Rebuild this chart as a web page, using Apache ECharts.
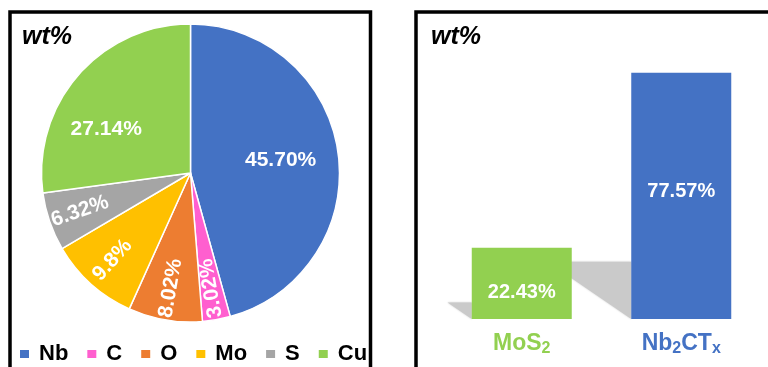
<!DOCTYPE html>
<html>
<head>
<meta charset="utf-8">
<script src="https://cdn.jsdelivr.net/npm/echarts@6/dist/echarts.min.js"></script>
<style>
  html, body { margin: 0; padding: 0; background: #ffffff; }
  #chart { width: 768px; height: 367px; }
</style>
</head>
<body>
<div id="chart"></div>
<script>
// Element composition (wt%)
const elements = ['Nb', 'C', 'O', 'Mo', 'S', 'Cu'];
const elementWt = [45.70, 3.02, 8.02, 9.8, 6.32, 27.14];
const elementDecimals = [2, 2, 2, 1, 2, 2];

// Phase composition (wt%)
const materials = ['MoS2', 'Nb2CTx'];
const materialWt = [22.43, 77.57];

const elementColors = ['#4472C4', '#FF5FCF', '#ED7D31', '#FFC000', '#A5A5A5', '#92D050'];
const materialColors = ['#92D050', '#4472C4'];

const FONT = 'Liberation Sans, Arial, sans-serif';
const PIE_CENTER = [190.5, 173];
const PIE_R = 149;

// Large slices get horizontal labels, small slices get radial labels
const bigSlice = elementWt.map(v => v > 20);
const total = elementWt.reduce((a, b) => a + b, 0);
let cum = 0;
const radialRotate = elementWt.map(v => {
  const mid = (cum + v / 2) / total * 360;
  cum += v;
  return 270 - mid;
});

// Nudges for the two horizontal labels
const bigLabelOffset = { Nb: [-5, 0], Cu: [-12, 19] };

function pctText(i) {
  return elementWt[i].toFixed(elementDecimals[i]) + '%';
}

const labelStyle = {
  color: '#ffffff',
  fontSize: 21,
  fontWeight: 'bold',
  fontFamily: FONT
};

function labelRing(inner, pick, extra) {
  return {
    type: 'pie',
    silent: true,
    center: PIE_CENTER,
    radius: [inner, PIE_R],
    startAngle: 90,
    clockwise: true,
    avoidLabelOverlap: false,
    minShowLabelAngle: 0,
    emphasis: { disabled: true },
    tooltip: { show: false },
    itemStyle: { color: 'rgba(0,0,0,0)' },
    labelLine: { show: false },
    label: Object.assign({ show: true, position: 'inside', formatter: p => pctText(p.dataIndex) }, labelStyle),
    data: elements.map((n, i) => ({
      name: n,
      value: elementWt[i],
      label: Object.assign({ show: pick(i) }, extra(i))
    }))
  };
}

// Shadow cast by each bar onto the floor behind it
function barShadow(params, api) {
  const i = api.value(0);
  const v = api.value(1);
  const base = api.coord([i, 0]);
  const top = api.coord([i, v]);
  const h = base[1] - top[1];
  const x0 = base[0] - 50;
  return {
    type: 'polygon',
    shape: {
      points: [
        [x0, base[1]],
        [x0 - 0.34 * h, base[1] - 0.232 * h],
        [x0, base[1] - 0.232 * h]
      ]
    },
    style: { fill: '#cacaca', shadowBlur: 2, shadowColor: '#cacaca' }
  };
}

function subscriptName(name, idx) {
  const body = name.replace(/(\d+|x$)/g, '}{s' + idx + '|$1}{m' + idx + '|');
  return '{m' + idx + '|' + body + '}';
}

const rich = {};
materialColors.forEach((c, i) => {
  rich['m' + i] = { color: c, fontSize: 23, fontWeight: 'bold', fontFamily: FONT, lineHeight: 26 };
  rich['s' + i] = { color: c, fontSize: 16, fontWeight: 'bold', fontFamily: FONT, lineHeight: 12, verticalAlign: 'bottom' };
});

const chart = echarts.init(document.getElementById('chart'), null, { renderer: 'canvas' });

chart.setOption({
  backgroundColor: '#ffffff',
  animation: false,
  title: [
    { text: 'wt%', left: 22, top: 25, padding: 0,
      textStyle: { fontSize: 25, fontStyle: 'italic', fontWeight: 'bold', color: '#000', fontFamily: FONT } },
    { text: 'wt%', left: 431, top: 25, padding: 0,
      textStyle: { fontSize: 25, fontStyle: 'italic', fontWeight: 'bold', color: '#000', fontFamily: FONT } }
  ],
  graphic: [
    { type: 'rect', shape: { x: 10, y: 12, width: 360.5, height: 420 },
      style: { fill: 'none', stroke: '#000', lineWidth: 3.5 }, silent: true, z: 100 },
    { type: 'rect', shape: { x: 416, y: 12, width: 420, height: 420 },
      style: { fill: 'none', stroke: '#000', lineWidth: 3.5 }, silent: true, z: 100 }
  ],
  legend: {
    left: 18,
    top: 343,
    padding: 0,
    icon: 'rect',
    itemWidth: 11,
    itemHeight: 10,
    itemGap: 17,
    selectedMode: false,
    textStyle: { fontSize: 22, fontWeight: 'bold', color: '#000', fontFamily: FONT, padding: [0, 0, 0, 4] },
    data: elements.map((n, i) => ({ name: n, itemStyle: { color: elementColors[i] } }))
  },
  grid: { left: 442, right: 7, top: 65, bottom: 48 },
  xAxis: {
    type: 'category',
    data: materials,
    axisLine: { show: false },
    axisTick: { show: false },
    axisLabel: {
      interval: 0,
      hideOverlap: false,
      margin: 12,
      formatter: (v, idx) => subscriptName(v, idx),
      rich: rich
    }
  },
  yAxis: { type: 'value', min: 0, max: 80, show: false },
  series: [
    {
      name: 'composition',
      type: 'pie',
      center: PIE_CENTER,
      radius: [0, PIE_R],
      startAngle: 90,
      clockwise: true,
      emphasis: { disabled: true },
      label: { show: false },
      labelLine: { show: false },
      itemStyle: { borderColor: '#ffffff', borderWidth: 1.5 },
      data: elements.map((n, i) => ({ name: n, value: elementWt[i], itemStyle: { color: elementColors[i] } }))
    },
    labelRing(37, i => bigSlice[i], i => ({ rotate: 0, offset: bigLabelOffset[elements[i]] || [0, 0] })),
    labelRing(79, i => !bigSlice[i], i => ({ rotate: radialRotate[i] })),
    {
      type: 'custom',
      silent: true,
      z: 1,
      renderItem: barShadow,
      data: materialWt.map((v, i) => [i, v])
    },
    {
      type: 'bar',
      z: 2,
      barWidth: 100,
      emphasis: { disabled: true },
      label: Object.assign({ show: true, position: 'inside', formatter: p => p.value.toFixed(2) + '%' }, labelStyle, { fontSize: 20 }),
      data: materialWt.map((v, i) => ({
        value: v,
        itemStyle: { color: materialColors[i] },
        label: { offset: [0, i === 0 ? 9 : -4] }
      }))
    }
  ]
});
</script>
</body>
</html>
